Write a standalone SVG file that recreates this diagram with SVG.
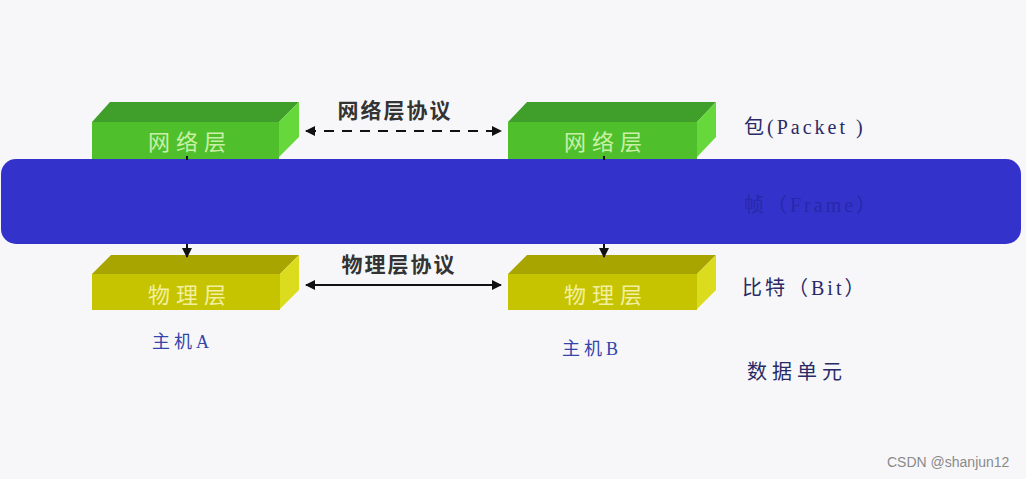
<svg xmlns="http://www.w3.org/2000/svg" width="1026" height="479" viewBox="0 0 1026 479">
<defs>
<marker id="ah" viewBox="0 0 10 10" refX="9" refY="5" markerWidth="5" markerHeight="5" orient="auto-start-reverse"><path d="M0,0 L10,5 L0,10 z" fill="#111"/></marker>
<style>
.gtop{fill:#3f9f2a}.gfront{fill:#4fc02c}.gside{fill:#66d83c}
.ytop{fill:#a8a400}.yfront{fill:#c6c400}.yside{fill:#dcdc1e}
.boxlbl{font-family:"Noto Sans CJK SC",serif;font-size:22px;letter-spacing:6px;text-anchor:middle}
.proto{font-family:"Noto Sans CJK SC",sans-serif;font-size:21px;font-weight:bold;fill:#333;text-anchor:middle;letter-spacing:2px}
.unit{font-family:"Liberation Serif","Noto Sans CJK SC",serif;font-size:20px;fill:#2a2a66;letter-spacing:3px}
.host{font-family:"Liberation Serif","Noto Sans CJK SC",serif;font-size:18px;fill:#3344aa;letter-spacing:4px}
.conn{stroke:#111;stroke-width:2;fill:none}
</style>
</defs>
<rect width="1026" height="479" fill="#f7f7f9"/>
<g id="netA">
<polygon class="gtop" points="92,122 110,102 299,102 279,122"/>
<rect class="gfront" x="92" y="122" width="187" height="37"/>
<polygon class="gside" points="279,122 299,102 299,137 279,157"/>
<text class="boxlbl" x="190" y="150" fill="#c8f0a8">网络层</text>
</g>
<g id="netB">
<polygon class="gtop" points="508,122 527,102 716,102 697,122"/>
<rect class="gfront" x="508" y="122" width="189" height="37"/>
<polygon class="gside" points="697,122 716,102 716,137 697,157"/>
<text class="boxlbl" x="606" y="150" fill="#c8f0a8">网络层</text>
</g>
<g id="frame">
<rect x="1" y="159" width="1020" height="85" rx="15" fill="#3333cc"/>
<text class="unit" x="744" y="212" style="fill:#2828a8">帧（Frame）</text>
</g>
<g id="phyA">
<polygon class="ytop" points="92,274 111,255 299,255 280,274"/>
<rect class="yfront" x="92" y="274" width="188" height="36"/>
<polygon class="yside" points="280,274 299,255 299,290 280,309"/>
<text class="boxlbl" x="190" y="303" fill="#f2f0a0">物理层</text>
</g>
<g id="phyB">
<polygon class="ytop" points="508,274 527,255 716,255 697,274"/>
<rect class="yfront" x="508" y="274" width="189" height="36"/>
<polygon class="yside" points="697,274 716,255 716,290 697,309"/>
<text class="boxlbl" x="606" y="303" fill="#f2f0a0">物理层</text>
</g>
<g id="connectors">
<line class="conn" x1="187" y1="156" x2="187" y2="160" stroke-width="1.5"/>
<line class="conn" x1="604" y1="156" x2="604" y2="160" stroke-width="1.5"/>
<line class="conn" x1="187" y1="244" x2="187" y2="257" marker-end="url(#ah)"/>
<line class="conn" x1="604" y1="244" x2="604" y2="257" marker-end="url(#ah)"/>
<line class="conn" x1="306" y1="131" x2="501" y2="131" stroke-dasharray="10,8" marker-start="url(#ah)" marker-end="url(#ah)"/>
<line class="conn" x1="306" y1="285" x2="501" y2="285" marker-start="url(#ah)" marker-end="url(#ah)"/>
</g>
<g id="labels">
<text class="proto" x="395" y="118">网络层协议</text>
<text class="proto" x="399" y="272">物理层协议</text>
<text class="unit" x="744" y="134">包(Packet )</text>
<text class="unit" x="742" y="295">比特（Bit）</text>
<text class="unit" x="747" y="379" style="letter-spacing:5px">数据单元</text>
<text class="host" x="152" y="348">主机A</text>
<text class="host" x="562" y="355">主机B</text>
<text x="887" y="467" font-family="Liberation Sans, sans-serif" font-size="14" fill="#8a8a8a">CSDN @shanjun12</text>
</g>
</svg>
